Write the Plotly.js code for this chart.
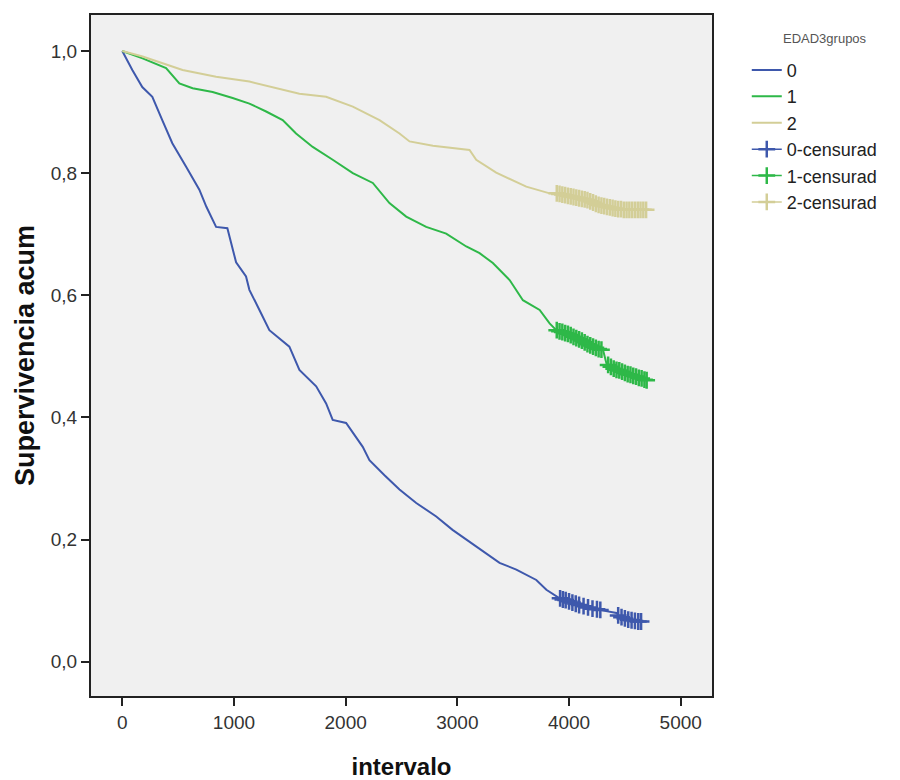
<!DOCTYPE html>
<html>
<head>
<meta charset="utf-8">
<script src="https://cdn.plot.ly/plotly-3.0.1.min.js"></script>
<style>html,body{margin:0;padding:0;background:#fff;}#chart{width:900px;height:780px;}</style>
</head>
<body>
<div id="chart"></div>
<script>
// Group 0 (blue)
const t0 = [0, 90, 179, 269, 358, 448, 573, 690, 753, 840, 941, 1019, 1108, 1138, 1228, 1317, 1496, 1586, 1736, 1825, 1884, 2004, 2153, 2213, 2350, 2482, 2632, 2811, 2957, 3080, 3259, 3378, 3528, 3707, 3797, 3916, 4095, 4274, 4424, 4453, 4640];
const s0 = [1, 0.969, 0.941, 0.925, 0.887, 0.849, 0.810, 0.773, 0.745, 0.712, 0.710, 0.654, 0.631, 0.609, 0.576, 0.543, 0.516, 0.478, 0.451, 0.423, 0.396, 0.391, 0.352, 0.330, 0.305, 0.282, 0.260, 0.238, 0.216, 0.200, 0.178, 0.162, 0.151, 0.134, 0.118, 0.104, 0.093, 0.085, 0.080, 0.074, 0.066];
// Group 1 (green)
const t1 = [0, 182, 392, 511, 630, 809, 988, 1138, 1288, 1436, 1556, 1705, 1884, 2064, 2243, 2392, 2542, 2721, 2900, 3080, 3199, 3318, 3468, 3587, 3737, 3826, 3886, 4095, 4304, 4334, 4453, 4693];
const s1 = [1, 0.988, 0.972, 0.947, 0.939, 0.933, 0.923, 0.914, 0.901, 0.887, 0.865, 0.843, 0.822, 0.800, 0.784, 0.751, 0.729, 0.712, 0.701, 0.680, 0.669, 0.653, 0.625, 0.592, 0.576, 0.554, 0.543, 0.527, 0.511, 0.489, 0.478, 0.461];
// Group 2 (tan)
const t2 = [0, 182, 540, 840, 1138, 1467, 1586, 1825, 2064, 2303, 2482, 2572, 2781, 3109, 3169, 3348, 3617, 3826, 3886, 4245, 4453, 4693];
const s2 = [1, 0.991, 0.969, 0.958, 0.950, 0.936, 0.930, 0.925, 0.909, 0.887, 0.865, 0.852, 0.845, 0.838, 0.822, 0.801, 0.778, 0.767, 0.767, 0.748, 0.740, 0.740];

// Censored observations
const c0t = [3920, 3945, 3970, 4000, 4030, 4060, 4090, 4130, 4170, 4210, 4250, 4280, 4440, 4470, 4500, 4530, 4560, 4590, 4620, 4645];
const c0s = [0.104, 0.102, 0.101, 0.099, 0.097, 0.095, 0.093, 0.091, 0.089, 0.087, 0.086, 0.085, 0.076, 0.073, 0.071, 0.069, 0.068, 0.067, 0.066, 0.066];
const c1t = [3890, 3915, 3940, 3965, 3990, 4015, 4040, 4065, 4090, 4115, 4140, 4165, 4190, 4215, 4240, 4265, 4290, 4350, 4375, 4400, 4425, 4450, 4475, 4500, 4525, 4550, 4575, 4600, 4625, 4650, 4675, 4695];
const c1s = [0.543, 0.541, 0.540, 0.538, 0.537, 0.535, 0.532, 0.530, 0.528, 0.526, 0.523, 0.520, 0.518, 0.516, 0.514, 0.512, 0.511, 0.486, 0.483, 0.480, 0.478, 0.477, 0.475, 0.473, 0.471, 0.470, 0.468, 0.467, 0.465, 0.464, 0.462, 0.461];
const c2t = [3890, 3915, 3940, 3965, 3990, 4015, 4040, 4065, 4090, 4115, 4140, 4165, 4190, 4215, 4240, 4265, 4290, 4315, 4340, 4365, 4390, 4415, 4440, 4465, 4490, 4515, 4540, 4565, 4590, 4615, 4640, 4665, 4690];
const c2s = [0.767, 0.766, 0.765, 0.764, 0.763, 0.762, 0.761, 0.760, 0.759, 0.758, 0.757, 0.756, 0.754, 0.752, 0.750, 0.748, 0.747, 0.746, 0.745, 0.744, 0.743, 0.742, 0.741, 0.741, 0.740, 0.740, 0.740, 0.740, 0.740, 0.740, 0.740, 0.740, 0.740];

const names = ['0', '1', '2', '0-censurad', '1-censurad', '2-censurad'];
const legendTitle = 'EDAD3grupos';
const colors = ['#3E58AC', '#2EB848', '#D3CE97'];
const xTicks = [0, 1000, 2000, 3000, 4000, 5000];
const yTicks = [0, 0.2, 0.4, 0.6, 0.8, 1.0];

function isolate(xs, ys) {
  const X = [], Y = [];
  xs.forEach((v, i) => { X.push(v); Y.push(ys[i]); X.push(null); Y.push(null); });
  return {X, Y};
}

const curves = [[t0, s0], [t1, s1], [t2, s2]];
const cens = [[c0t, c0s], [c1t, c1s], [c2t, c2s]];
const traces = [];
curves.forEach((c, i) => {
  traces.push({x: c[0], y: c[1], type: 'scatter', mode: 'lines', name: names[i],
    line: {color: colors[i], width: 2, shape: 'linear'}, hoverinfo: 'skip'});
});
cens.forEach((c, i) => {
  const d = isolate(c[0], c[1]);
  traces.push({x: d.X, y: d.Y, type: 'scatter', mode: 'lines+markers', name: names[i + 3],
    connectgaps: false,
    line: {color: colors[i], width: 1.5},
    marker: {symbol: 'cross-thin', size: 12, color: colors[i], line: {color: colors[i], width: 2.5}},
    hoverinfo: 'skip'});
});

const layout = {
  width: 900, height: 780,
  separators: ',.',
  margin: {l: 91, r: 188, t: 15, b: 84},
  paper_bgcolor: '#ffffff',
  plot_bgcolor: '#f0f0f0',
  font: {family: 'Liberation Sans, Arial, sans-serif', color: '#333'},
  showlegend: true,
  legend: {
    x: 1.056, xanchor: 'left', y: 0.946, yanchor: 'top',
    bgcolor: 'rgba(0,0,0,0)',
    font: {size: 18, color: '#222'},
    itemwidth: 30, tracegroupgap: 0
  },
  annotations: [{
    text: legendTitle, xref: 'paper', yref: 'paper', x: 1.182, y: 0.966,
    xanchor: 'center', yanchor: 'middle', showarrow: false,
    font: {size: 13, color: '#555'}
  }],
  xaxis: {
    range: [-280, 5280], tickvals: xTicks, ticktext: xTicks.map(String),
    showgrid: false, zeroline: false,
    showline: true, mirror: true, linecolor: '#222', linewidth: 2,
    ticks: 'outside', ticklen: 8, tickwidth: 2, tickcolor: '#222',
    tickfont: {size: 19, color: '#333'},
    title: {text: 'intervalo', font: {size: 24, color: '#111', family: 'Liberation Sans, Arial, sans-serif', weight: 'bold'}, standoff: 28},
    automargin: false
  },
  yaxis: {
    range: [-0.056, 1.059], tickvals: yTicks, tickformat: '.1f',
    showgrid: false, zeroline: false,
    showline: true, mirror: true, linecolor: '#222', linewidth: 2,
    ticks: 'outside', ticklen: 8, tickwidth: 2, tickcolor: '#222',
    tickfont: {size: 19, color: '#333'},
    title: {text: 'Supervivencia acum', font: {size: 27, color: '#111', family: 'Liberation Sans, Arial, sans-serif', weight: 'bold'}, standoff: 8},
    automargin: false
  }
};

Plotly.newPlot('chart', traces, layout, {staticPlot: true, displayModeBar: false});
</script>
</body>
</html>
